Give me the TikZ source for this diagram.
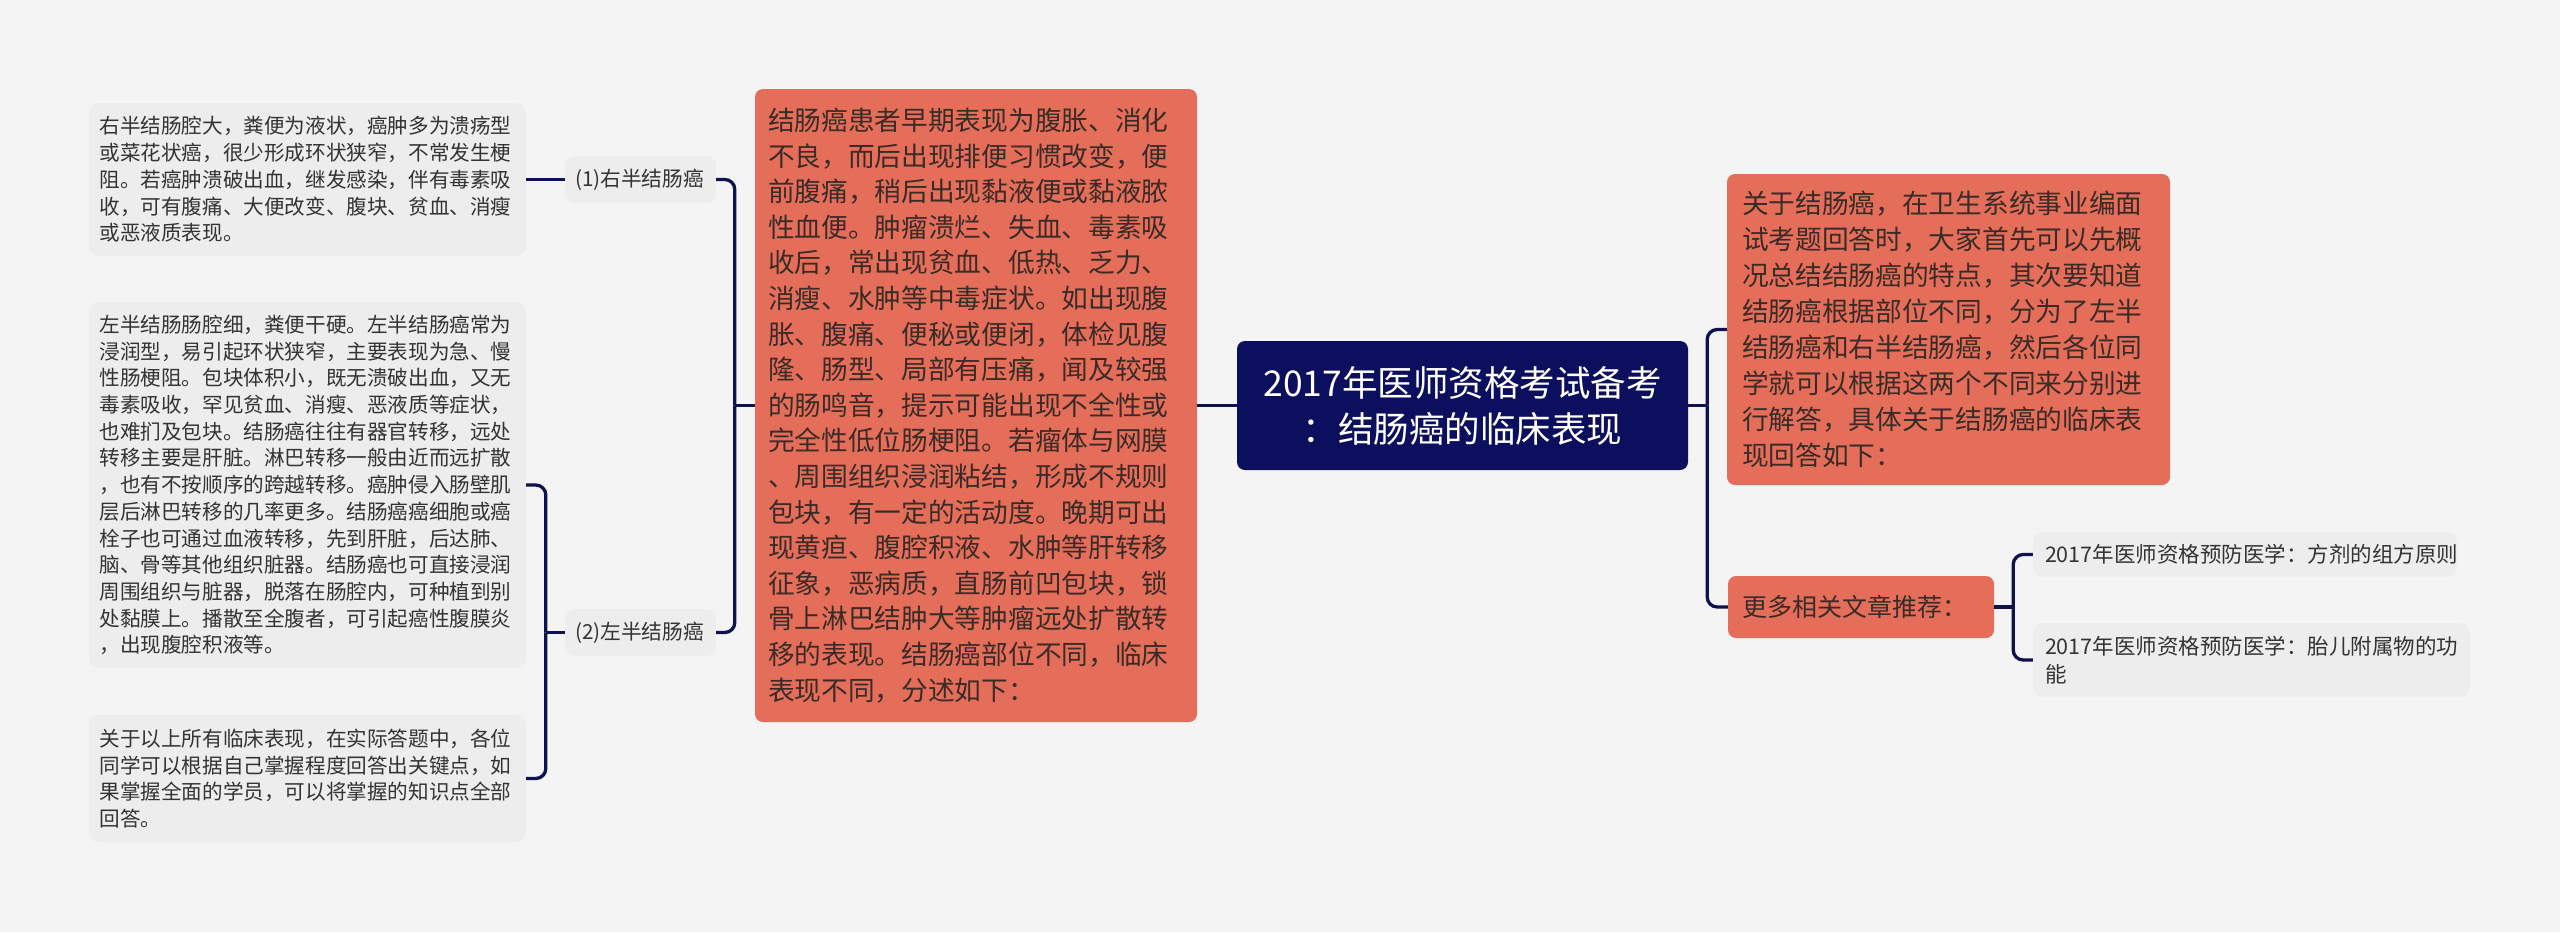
\documentclass[tikz,border=0pt]{standalone}
\usepackage{fontspec}
\setmainfont{Noto Sans CJK SC}
\usepackage{tikz}

\definecolor{bgcol}{HTML}{F4F4F4}
\definecolor{navy}{HTML}{0C0F5E}
\definecolor{linecol}{HTML}{10124F}
\definecolor{coral}{HTML}{E56E5A}
\definecolor{leafgray}{HTML}{EDEDED}
\definecolor{darktext}{HTML}{3A2B27}
\definecolor{graytext}{HTML}{333333}

\begin{document}
\begin{tikzpicture}[x=1pt,y=-1pt,
    central/.style={fill=navy,text=white,rounded corners=8pt,align=center,inner ysep=0pt,
      inner xsep=15pt,text width=421pt,minimum height=129pt,font=\fontsize{35.5}{46}\selectfont},
    topic/.style={fill=coral,text=darktext,rounded corners=8pt,align=left,inner ysep=0pt},
    detail/.style={fill=leafgray,text=graytext,rounded corners=10pt,align=left,inner ysep=0pt},
    conn/.style={draw=linecol,line width=3.3pt,rounded corners=10pt}]
      \path[fill=bgcol] (0,0) rectangle (2560,932);

      \node[central] (root) at (1462.5,405.5) {2017年医师资格考试备考\\：结肠癌的临床表现};

      \node[topic,text width=416pt,inner xsep=13pt,minimum height=633pt,
        font=\fontsize{26.7}{35.6}\selectfont] (big) at (976,405.5)
        {结肠癌患者早期表现为腹胀、消化\\不良，而后出现排便习惯改变，便\\前腹痛，稍后出现黏液便或黏液脓\\性血便。肿瘤溃烂、失血、毒素吸\\收后，常出现贫血、低热、乏力、\\消瘦、水肿等中毒症状。如出现腹\\胀、腹痛、便秘或便闭，体检见腹\\隆、肠型、局部有压痛，闻及较强\\的肠鸣音，提示可能出现不全性或\\完全性低位肠梗阻。若瘤体与网膜\\、周围组织浸润粘结，形成不规则\\包块，有一定的活动度。晚期可出\\现黄疸、腹腔积液、水肿等肝转移\\征象，恶病质，直肠前凹包块，锁\\骨上淋巴结肿大等肿瘤远处扩散转\\移的表现。结肠癌部位不同，临床\\表现不同，分述如下：};

      \node[detail,text width=131pt,inner xsep=10pt,minimum height=47pt,
        font=\fontsize{20.7}{26.7}\selectfont] (r1) at (640.5,179.5) {(1)右半结肠癌};
      \node[detail,text width=131pt,inner xsep=10pt,minimum height=47pt,
        font=\fontsize{20.7}{26.7}\selectfont] (r2) at (640.5,632.5) {(2)左半结肠癌};

      \node[detail,text width=416pt,inner xsep=10.5pt,minimum height=153pt,
        font=\fontsize{20.6}{26.7}\selectfont] (l1) at (307.5,179.5)
        {右半结肠腔大，粪便为液状，癌肿多为溃疡型\\或菜花状癌，很少形成环状狭窄，不常发生梗\\阻。若癌肿溃破出血，继发感染，伴有毒素吸\\收，可有腹痛、大便改变、腹块、贫血、消瘦\\或恶液质表现。};
      \node[detail,text width=416pt,inner xsep=10.5pt,minimum height=366pt,
        font=\fontsize{20.6}{26.7}\selectfont] (l2) at (307.5,485)
        {左半结肠肠腔细，粪便干硬。左半结肠癌常为\\浸润型，易引起环状狭窄，主要表现为急、慢\\性肠梗阻。包块体积小，既无溃破出血，又无\\毒素吸收，罕见贫血、消瘦、恶液质等症状，\\也难扪及包块。结肠癌往往有器官转移，远处\\转移主要是肝脏。淋巴转移一般由近而远扩散\\，也有不按顺序的跨越转移。癌肿侵入肠壁肌\\层后淋巴转移的几率更多。结肠癌癌细胞或癌\\栓子也可通过血液转移，先到肝脏，后达肺、\\脑、骨等其他组织脏器。结肠癌也可直接浸润\\周围组织与脏器，脱落在肠腔内，可种植到别\\处黏膜上。播散至全腹者，可引起癌性腹膜炎\\，出现腹腔积液等。};
      \node[detail,text width=416pt,inner xsep=10.5pt,minimum height=127pt,
        font=\fontsize{20.6}{26.7}\selectfont] (l3) at (307.5,778.5)
        {关于以上所有临床表现，在实际答题中，各位\\同学可以根据自己掌握程度回答出关键点，如\\果掌握全面的学员，可以将掌握的知识点全部\\回答。};

      \node[topic,text width=413pt,inner xsep=15pt,minimum height=311pt,
        font=\fontsize{26.7}{36}\selectfont] (intro) at (1948.5,329.5)
        {关于结肠癌，在卫生系统事业编面\\试考题回答时，大家首先可以先概\\况总结结肠癌的特点，其次要知道\\结肠癌根据部位不同，分为了左半\\结肠癌和右半结肠癌，然后各位同\\学就可以根据这两个不同来分别进\\行解答，具体关于结肠癌的临床表\\现回答如下：};
      \node[topic,text width=238pt,inner xsep=14pt,minimum height=62pt,
        font=\fontsize{25}{32}\selectfont] (more) at (1861,607) {更多相关文章推荐：};

      \node[detail,text width=400pt,inner xsep=12pt,minimum height=45pt,
        font=\fontsize{21.5}{28}\selectfont] (ref1) at (2245,554.5)
        {2017年医师资格预防医学：方剂的组方原则};
      \node[detail,text width=413pt,inner xsep=12pt,minimum height=74pt,
        font=\fontsize{21.5}{28}\selectfont] (ref2) at (2251.5,660)
        {2017年医师资格预防医学：胎儿附属物的功\\能};

      \draw[conn] (big.east) -- (root.west);
      \draw[conn] (root.east) -- ++(19,0);
      \draw[conn] (root.east) ++(19,0) |- (intro.west);
      \draw[conn] (root.east) ++(19,0) |- (more.west);
      \draw[conn] (more.east) -- ++(19,0);
      \draw[conn] (more.east) ++(19,0) |- (ref1.west);
      \draw[conn] (more.east) ++(19,0) |- (ref2.west);
      \draw[conn] (big.west) -- ++(-20,0);
      \draw[conn] (big.west) ++(-20,0) |- (r1.east);
      \draw[conn] (big.west) ++(-20,0) |- (r2.east);
      \draw[conn] (l1.east) -- (r1.west);
      \draw[conn] (r2.west) -- ++(-19,0);
      \draw[conn] (r2.west) ++(-19,0) |- (l2.east);
      \draw[conn] (r2.west) ++(-19,0) |- (l3.east);
    \end{tikzpicture}
\end{document}
